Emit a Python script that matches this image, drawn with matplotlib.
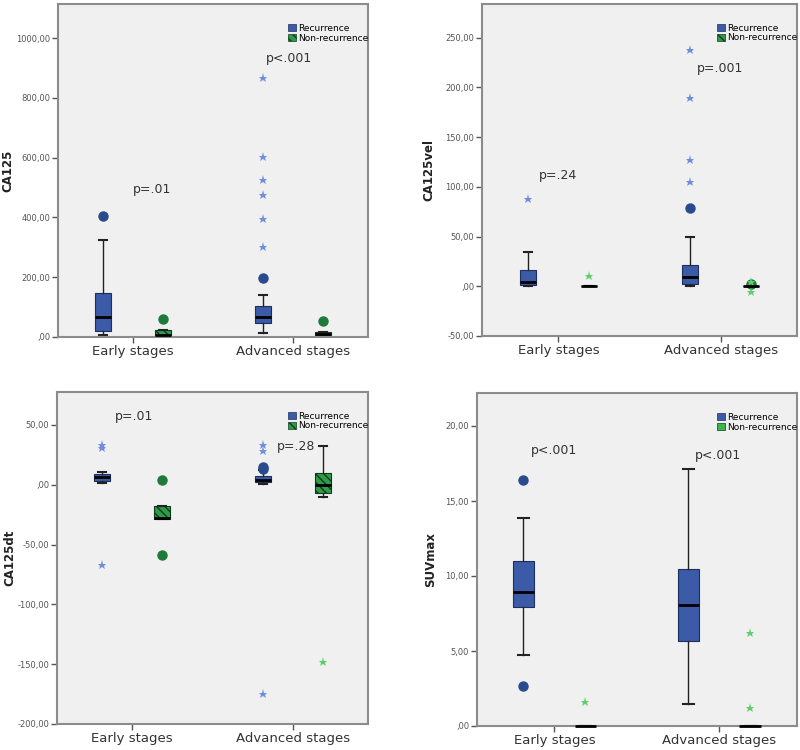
import matplotlib
matplotlib.use("Agg")
from matplotlib import pyplot as plt
from matplotlib.patches import Patch

stages = ["Early stages", "Advanced stages"]
groups = ["Recurrence", "Non-recurrence"]

# box stats per panel: order = early rec, early non-rec, adv rec, adv non-rec
# (whislo, q1, med, q3, whishi)
ca125_box = [(5, 20, 68, 147, 324), (0, 0, 8, 22, 22),
             (13, 48, 68, 103, 140), (5, 5, 10, 18, 18)]
ca125_circ = [[405], [60], [197], [55]]
ca125_star = [[], [], [868, 601, 525, 476, 393, 300], []]

vel_box = [(0, 1.7, 4, 16, 34.5), (0, 0, 0, 0, 0),
           (0, 2.7, 9.4, 21.8, 50), (0, 0, 0, 0, 0)]
vel_circ = [[], [], [79], [2.5]]
vel_star = [[87.7], [10], [105.4, 127, 189, 237.6], [4, -6]]

dt_box = [(1.4, 2.8, 6.4, 8.9, 10.6), (-28.7, -28.7, -28.2, -17.6, -17.6),
          (0.6, 2, 4.2, 7, 12), (-10.6, -7, 0, 9.8, 32)]
dt_circ = [[], [3.6, -59.1], [13.5, 15], []]
dt_star = [[32.9, 30.7, -67.5], [], [33.5, 28.4, -175], [-148.6]]

suv_box = [(4.72, 7.94, 8.95, 11.0, 13.9), (0, 0, 0, 0, 0),
           (1.5, 5.65, 8.05, 10.46, 17.1), (0, 0, 0, 0, 0)]
suv_circ = [[16.4, 2.7], [], [], []]
suv_star = [[], [1.6], [], [6.2, 1.2]]

panels = [
    dict(name="CA125", box=ca125_box, circ=ca125_circ, star=ca125_star,
         ylim=(0, 1114), ticks=[0, 200, 400, 600, 800, 1000],
         ptext=[("p=.01", 0.0, 482), ("p<.001", 0.83, 920)], hatch=True,
         pos=[0.0725, 0.5507, 0.3875, 0.444], bw=0.1, lab=-0.142),
    dict(name="CA125vel", box=vel_box, circ=vel_circ, star=vel_star,
         ylim=(-50, 284), ticks=[-50, 0, 50, 100, 150, 200, 250],
         ptext=[("p=.24", -0.12, 108), ("p=.001", 0.85, 216)], hatch=True,
         pos=[0.6025, 0.552, 0.394, 0.4427], bw=0.1, lab=-0.149),
    dict(name="CA125dt", box=dt_box, circ=dt_circ, star=dt_star,
         ylim=(-200, 77.6), ticks=[-200, -150, -100, -50, 0, 50],
         ptext=[("p=.01", -0.11, 54), ("p=.28", 0.9, 29)], hatch=True,
         pos=[0.071, 0.0347, 0.389, 0.4427], bw=0.1, lab=-0.13),
    dict(name="SUVmax", box=suv_box, circ=suv_circ, star=suv_star,
         ylim=(0, 22.2), ticks=[0, 5, 10, 15, 20],
         ptext=[("p<.001", -0.14, 18.1), ("p<.001", 0.85, 17.8)], hatch=False,
         pos=[0.596, 0.032, 0.4, 0.444], bw=0.13, lab=-0.125),
]

blue = "#3b5ba9"
green = "#2f9a49"
green_plain = "#3cb54c"
off = 0.1875


def fmt(v):
    s = f"{v:.2f}".replace(".", ",")
    return ",00" if v == 0 else s


fig = plt.figure(figsize=(8, 7.5), dpi=100)

for p in panels:
    ax = fig.add_axes(p["pos"])
    ax.set_facecolor("#f0f0f0")
    positions = [0 - off, 0 + off, 1 - off, 1 + off]
    stats = []
    for (lo, q1, med, q3, hi) in p["box"]:
        stats.append(dict(whislo=lo, q1=q1, med=med, q3=q3, whishi=hi, fliers=[]))
    bp = ax.bxp(stats, positions=positions, widths=p["bw"], capwidths=p["bw"] * 0.5,
                patch_artist=True, showfliers=False,
                medianprops=dict(color="black", lw=2, clip_on=False, zorder=3),
                whiskerprops=dict(color="#222222", lw=1),
                capprops=dict(color="#222222", lw=1.5))
    for i, b in enumerate(bp["boxes"]):
        if i % 2 == 0:
            b.set_facecolor(blue)
            b.set_edgecolor("#1e2f5c")
        elif p["hatch"]:
            b.set_facecolor(green)
            b.set_edgecolor("#0f3d1c")
            b.set_hatch("\\\\\\\\")
        else:
            b.set_facecolor(green_plain)
            b.set_edgecolor("#0f3d1c")
        b.set_linewidth(0.8)
    for i in range(4):
        col_c = "#2a4a8e" if i % 2 == 0 else "#1f7a3a"
        col_s = "#6f8ede" if i % 2 == 0 else "#5fcf6c"
        if p["circ"][i]:
            ax.plot([positions[i]] * len(p["circ"][i]), p["circ"][i], "o",
                    color=col_c, ms=6.5, mec=col_c)
        if p["star"][i]:
            ax.plot([positions[i]] * len(p["star"][i]), p["star"][i], "*",
                    color=col_s, ms=6.5, mew=0)
    for txt, x, y in p["ptext"]:
        ax.text(x, y, txt, fontsize=9, color="#333333")
    ax.set_xlim(-0.47, 1.47)
    ax.set_ylim(*p["ylim"])
    ax.set_xticks([0, 1])
    ax.set_xticklabels(stages, fontsize=9.5, color="#333333")
    ax.set_yticks(p["ticks"])
    ax.set_yticklabels([fmt(t) for t in p["ticks"]], fontsize=6, color="#555555")
    ax.set_ylabel(p["name"], fontsize=8.5, fontweight="bold", color="#222222")
    ax.yaxis.set_label_coords(p["lab"], 0.5)
    for s in ax.spines.values():
        s.set_color("#8c8c8c")
        s.set_linewidth(1.5)
    ax.tick_params(axis="both", color="#555555", length=4, width=1, pad=1.5)
    if p["hatch"]:
        h2 = Patch(facecolor=green, edgecolor="#0f3d1c", hatch="\\\\\\\\", lw=0.5)
    else:
        h2 = Patch(facecolor=green_plain, edgecolor="#0f3d1c", lw=0.5)
    h1 = Patch(facecolor=blue, edgecolor="#1e2f5c", lw=0.5)
    ax.legend([h1, h2], groups, loc="upper right", bbox_to_anchor=(1.02, 0.96),
              frameon=False, fontsize=6.5, handlelength=0.9, handleheight=0.9,
              handletextpad=0.2, labelspacing=0.1, borderpad=0.2)

fig.savefig("out.png", dpi=100)
